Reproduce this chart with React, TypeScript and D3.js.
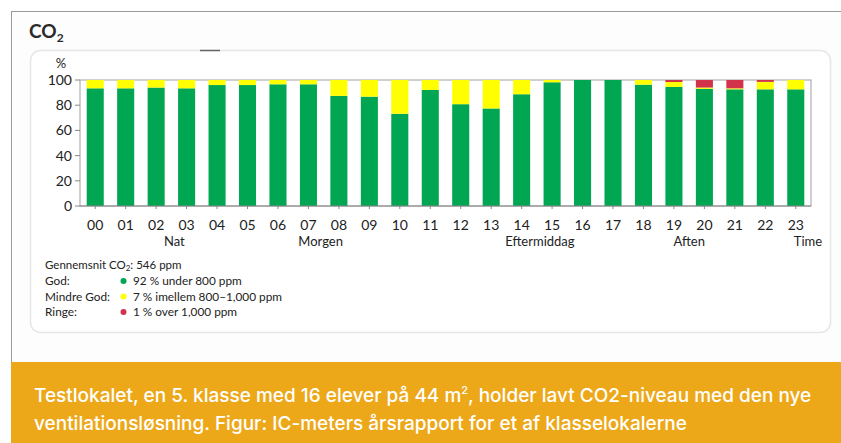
import React from "react";
import * as d3 from "d3";

const hours = ["00","01","02","03","04","05","06","07","08","09","10","11","12","13","14","15","16","17","18","19","20","21","22","23"];
const god = [93.4,93.4,94,93.4,96,96,96.6,96.6,87.4,86.8,73.2,92.1,80.8,77.4,88.7,98.2,100,100,96.3,94.5,93,92.6,92.6,92.6];
const ringe = [0,0,0,0,0,0,0,0,0,0,0,0,0,0,0,0,0,0,0,1.6,6,6.6,1.5,0];
const mindre = god.map((g, i) => Math.max(0, 100 - g - ringe[i]));
const yTicks = [0,20,40,60,80,100];
const periods = [
  { label: "Nat", pos: 2.6 },
  { label: "Morgen", pos: 7.4 },
  { label: "Eftermiddag", pos: 14.6 },
  { label: "Aften", pos: 19.5 },
];
const legendRows = [
  { name: "God:", color: "#00a651", text: "92 % under 800 ppm" },
  { name: "Mindre God:", color: "#ffff00", text: "7 % imellem 800–1,000 ppm" },
  { name: "Ringe:", color: "#d2334a", text: "1 % over 1,000 ppm" },
];
const seriesKeys = ["god", "mindre", "ringe"];
const seriesColors = { god: "#00a651", mindre: "#ffff00", ringe: "#d2334a" };

export default function App() {
  const W = 841, H = 443;
  const plot = { left: 80, right: 811, top: 80, bottom: 206 };
  const x = d3.scaleBand<string>().domain(hours).range([plot.left, plot.right]).paddingInner(0.44).paddingOuter(0.22);
  const y = d3.scaleLinear().domain([0, 100]).range([plot.bottom, plot.top]);
  const rows = hours.map((h, i) => ({ hour: h, god: god[i], mindre: mindre[i], ringe: ringe[i] }));
  const stack = d3.stack<any>().keys(seriesKeys)(rows);
  const cx = (i: number) => {
    const step = x.step();
    return (x(hours[0]) as number) + x.bandwidth() / 2 + i * step;
  };
  const chartFont = "Lato, 'Open Sans', sans-serif";
  return (
    <svg width={W} height={H} style={{ position: "absolute", left: 0, top: 0, background: "#fff" }}>
      <rect x={11.5} y={11.5} width={W} height={351} fill="#fdfdfd" stroke="#9a9a9a" strokeWidth={1} />
      <text x={29} y={38} fontFamily={chartFont} fontWeight={700} fontSize={19} fill="#2b2b2b">
        CO<tspan fontSize={12} dy={4}>2</tspan>
      </text>
      <rect x={30.5} y={50.5} width={800} height={282} rx={10} fill="#ffffff" stroke="#e6e6e6" strokeWidth={1.5} />
      <line x1={200} x2={220} y1={50.5} y2={50.5} stroke="#666" strokeWidth={1.5} />
      <rect x={plot.left} y={plot.top} width={plot.right - plot.left} height={plot.bottom - plot.top} fill="none" stroke="#a0a0a0" strokeWidth={1} />
      {yTicks.map((t) => (
        <g key={t}>
          <line x1={plot.left - 5} x2={plot.left} y1={y(t)} y2={y(t)} stroke="#888" />
          <text x={plot.left - 8} y={y(t)} dy="0.36em" textAnchor="end" fontFamily={chartFont} fontSize={14} fill="#222">{t}</text>
        </g>
      ))}
      <text x={61} y={68} textAnchor="middle" fontFamily={chartFont} fontSize={13} fill="#222">%</text>
      {stack.map((s) => (
        <g key={s.key} fill={(seriesColors as any)[s.key]}>
          {s.map((d, i) => (
            d[1] - d[0] > 0 ? (
              <rect key={i} x={x(hours[i])} y={y(d[1])} width={x.bandwidth()} height={y(d[0]) - y(d[1])} />
            ) : null
          ))}
        </g>
      ))}
      <line x1={plot.left} x2={plot.right} y1={plot.bottom} y2={plot.bottom} stroke="#888" />
      {hours.map((h, i) => (
        <g key={h}>
          <line x1={cx(i)} x2={cx(i)} y1={plot.bottom} y2={plot.bottom + 3} stroke="#888" />
          <text x={cx(i)} y={230} textAnchor="middle" fontFamily={chartFont} fontSize={14} fill="#222">{h}</text>
        </g>
      ))}
      {periods.map((p) => (
        <text key={p.label} x={cx(p.pos)} y={246} textAnchor="middle" fontFamily={chartFont} fontSize={13} fill="#222">{p.label}</text>
      ))}
      <text x={cx(23.4)} y={246} textAnchor="middle" fontFamily={chartFont} fontSize={13} fill="#222">Time</text>
      <text x={45} y={269} fontFamily={chartFont} fontSize={11.5} fill="#222">
        Gennemsnit CO<tspan fontSize={8} dy={2}>2</tspan><tspan dy={-2}>: 546 ppm</tspan>
      </text>
      {legendRows.map((r, i) => (
        <g key={r.name} fontFamily={chartFont} fontSize={11.8} fill="#222">
          <text x={45} y={285 + i * 15.5}>{r.name}</text>
          <circle cx={123.5} cy={281 + i * 15.5} r={3} fill={r.color} />
          <text x={133} y={285 + i * 15.5}>{r.text}</text>
        </g>
      ))}
      <rect x={11} y={362} width={W - 11} height={H - 362} fill="#eda81a" />
      <g fontFamily="Inter, Roboto, sans-serif" fontWeight={500} fontSize={19} fill="#ffffff" letterSpacing={0}>
        <text x={34} y={402}>Testlokalet, en 5. klasse med 16 elever på 44 m<tspan fontSize={11} dy={-8}>2</tspan><tspan dy={8}>, holder lavt CO2-niveau med den nye</tspan></text>
        <text x={34} y={430}>ventilationsløsning. Figur: IC-meters årsrapport for et af klasselokalerne</text>
      </g>
    </svg>
  );
}
